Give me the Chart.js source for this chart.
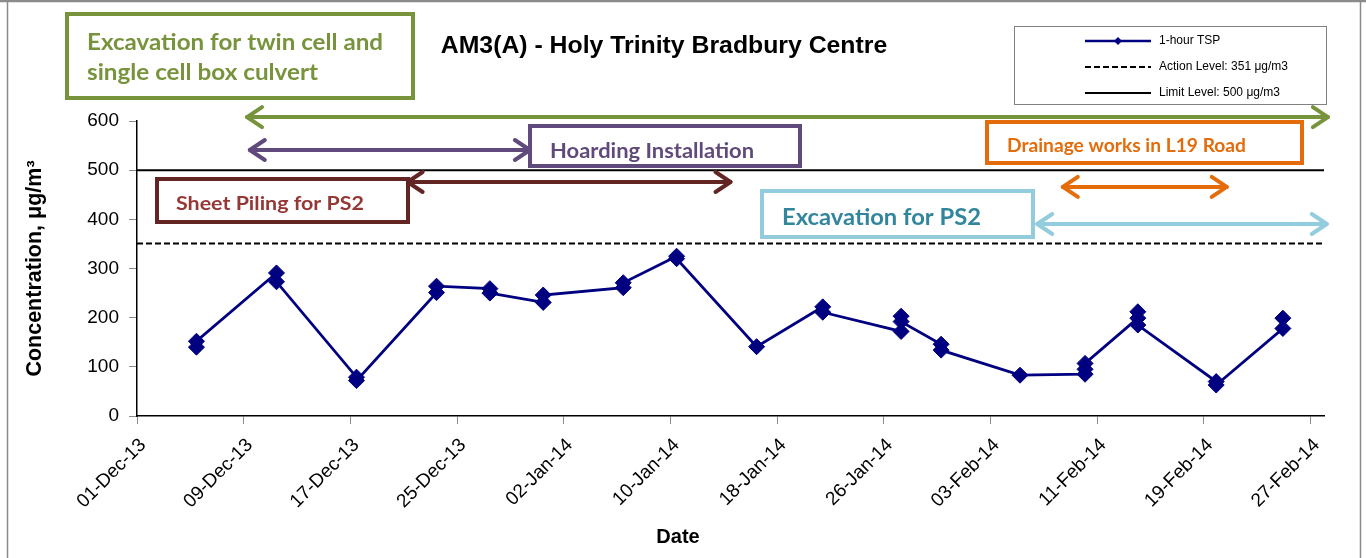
<!DOCTYPE html>
<html><head><meta charset="utf-8">
<script src="https://cdn.jsdelivr.net/npm/chart.js@4.4.1/dist/chart.umd.min.js"></script>
<style>html,body{margin:0;padding:0;background:#fff;}canvas{display:block;}</style>
</head><body>
<canvas id="c" width="1366" height="558"></canvas>
<script>
// ---------------- data ----------------
const chartTitle = "AM3(A) - Holy Trinity Bradbury Centre";
const xAxisTitle = "Date";
const yAxisTitle = "Concentration, μg/m³";
const axisStart = "2013-12-01";
const axisEnd = "2014-02-28";
const tickDates = ["2013-12-01","2013-12-09","2013-12-17","2013-12-25","2014-01-02","2014-01-10","2014-01-18","2014-01-26","2014-02-03","2014-02-11","2014-02-19","2014-02-27"];
const tickLabels = ["01-Dec-13","09-Dec-13","17-Dec-13","25-Dec-13","02-Jan-14","10-Jan-14","18-Jan-14","26-Jan-14","03-Feb-14","11-Feb-14","19-Feb-14","27-Feb-14"];
const yTicks = [0,100,200,300,400,500,600];
const seriesNames = ["1-hour TSP","Action Level: 351 μg/m3","Limit Level: 500 μg/m3"];
const sampleTimes = [
  "2013-12-05 11:00","2013-12-05 11:00",
  "2013-12-11 11:00","2013-12-11 11:00",
  "2013-12-17 11:00","2013-12-17 11:00",
  "2013-12-23 11:00","2013-12-23 11:00",
  "2013-12-27 11:00","2013-12-27 11:00",
  "2013-12-31 11:00","2013-12-31 11:00",
  "2014-01-06 11:00","2014-01-06 11:00",
  "2014-01-10 11:00","2014-01-10 11:00",
  "2014-01-16 11:00",
  "2014-01-21 10:00","2014-01-21 10:00",
  "2014-01-27 07:00","2014-01-27 07:00","2014-01-27 07:00",
  "2014-01-30 07:00","2014-01-30 07:00",
  "2014-02-05 05:00",
  "2014-02-10 02:00","2014-02-10 02:00","2014-02-10 02:00",
  "2014-02-14 01:00","2014-02-14 01:00","2014-02-14 01:00",
  "2014-02-19 22:00","2014-02-19 22:00",
  "2014-02-24 22:00","2014-02-24 22:00"
];
const tspValues = [
  140,152,
  291,273,
  79,72,
  251,264,
  259,250,
  231,246,
  261,271,
  325,320,
  141,
  222,211,
  172,203,192,
  146,134,
  83,
  85,95,107,
  199,212,185,
  70,63,
  178,199
];
const actionLevel = 351;
const limitLevel = 500;
const phaseNames = ["Excavation for twin cell and\nsingle cell box culvert","Hoarding Installation","Sheet Piling for PS2","Drainage works in L19 Road","Excavation for PS2"];
const phaseStarts = ["2013-12-09 06:00","2013-12-09 11:00","2013-12-21 07:00","2014-02-08 10:00","2014-02-06 12:00"];
const phaseEnds   = ["2014-02-28 07:00","2013-12-30 11:00","2014-01-14 12:00","2014-02-20 17:00","2014-02-28 05:00"];
const phaseArrowLevels = [608,541,476,466,390.5];

// ---------------- styles / layout ----------------
const phaseStyles = [
  {line:"#77933C", text:"#77933C", rect:[67,14,346,84], tx:87, ty:[43,73], tw:[296,231], size:22},
  {line:"#604A7B", text:"#604A7B", rect:[530,126,270,40], tx:550, ty:[152], tw:[204], size:20},
  {line:"#632523", text:"#953735", rect:[157,179,251,43], tx:176, ty:[204], tw:[188], size:19},
  {line:"#E46C0A", text:"#E46C0A", rect:[987,122,315,41], tx:1007, ty:[146], tw:[239], size:18.5},
  {line:"#93CDDD", text:"#31859C", rect:[762,191,271,46], tx:782, ty:[218], tw:[199], size:22}
];
const FONT = '"Liberation Sans", Arial, sans-serif';
const ANNOT_FONT = 'Lato, "Open Sans", sans-serif';

function dayOf(s){
  const parts = s.split(' ');
  const [Y,M,D] = parts[0].split('-').map(Number);
  let h=0,m=0;
  if(parts[1]){ [h,m] = parts[1].split(':').map(Number); }
  return (Date.UTC(Y,M-1,D,h,m) - Date.UTC(2013,11,1))/86400000;
}
const xMin = dayOf(axisStart), xMax = dayOf(axisEnd);

function fitText(ctx, text, x, y, width){
  const m = ctx.measureText(text).width;
  ctx.save(); ctx.translate(x,y); ctx.scale(width/m,1); ctx.fillText(text,0,0); ctx.restore();
}
function arrowHead(ctx, x, y, dir){
  const L=15, H=10;
  ctx.beginPath();
  ctx.moveTo(x - dir*L, y - H);
  ctx.lineTo(x, y);
  ctx.lineTo(x - dir*L, y + H);
  ctx.stroke();
}

const framePlugin = {
  id:'frame',
  beforeDraw(chart){
    const ctx = chart.ctx;
    ctx.save();
    ctx.fillStyle='#fff'; ctx.fillRect(0,0,chart.width,chart.height);
    ctx.strokeStyle='#8a8a8a'; ctx.lineWidth=2.5;
    ctx.beginPath(); ctx.moveTo(0,1); ctx.lineTo(chart.width,1); ctx.stroke();
    ctx.lineWidth=1.5;
    ctx.beginPath(); ctx.moveTo(7.5,1); ctx.lineTo(7.5,chart.height); ctx.stroke();
    ctx.beginPath(); ctx.moveTo(1360.5,1); ctx.lineTo(1360.5,chart.height); ctx.stroke();
    ctx.restore();
  }
};

const decorPlugin = {
  id:'decor',
  afterDraw(chart){
    const ctx = chart.ctx;
    const xs = chart.scales.x, ys = chart.scales.y;
    ctx.save();
    // title
    ctx.fillStyle='#000'; ctx.textAlign='center'; ctx.textBaseline='middle';
    ctx.font = 'bold 24.8px ' + FONT;
    ctx.fillText(chartTitle, 664, 46);
    // x axis title
    ctx.font = 'bold 20px ' + FONT;
    ctx.fillText(xAxisTitle, 678, 537);
    // legend
    ctx.strokeStyle='#808080'; ctx.lineWidth=1;
    ctx.fillStyle='#fff';
    ctx.fillRect(1014.5,26.5,312,78); ctx.strokeRect(1014.5,26.5,312,78);
    const rows=[41,67,93];
    chart.data.datasets.forEach((ds,i)=>{
      const y=rows[i];
      ctx.save();
      ctx.strokeStyle=ds.borderColor; ctx.lineWidth=Math.min(ds.borderWidth,2.5);
      ctx.setLineDash(ds.borderDash||[]);
      ctx.beginPath(); ctx.moveTo(1085,y); ctx.lineTo(1151,y); ctx.stroke();
      ctx.setLineDash([]);
      if(ds.pointRadius>0){
        ctx.fillStyle=ds.backgroundColor;
        ctx.beginPath(); ctx.moveTo(1118,y-4); ctx.lineTo(1122,y); ctx.lineTo(1118,y+4); ctx.lineTo(1114,y); ctx.closePath(); ctx.fill();
      }
      ctx.restore();
      ctx.fillStyle='#000'; ctx.textAlign='left'; ctx.textBaseline='middle';
      ctx.font='12px ' + FONT;
      ctx.fillText(ds.label, 1159, y);
    });
    // phases
    phaseNames.forEach((name,i)=>{
      const st = phaseStyles[i];
      const x1 = xs.getPixelForValue(dayOf(phaseStarts[i]));
      const x2 = xs.getPixelForValue(dayOf(phaseEnds[i]));
      const y = ys.getPixelForValue(phaseArrowLevels[i]);
      ctx.strokeStyle = st.line; ctx.lineWidth = 4; ctx.lineCap='round'; ctx.lineJoin='round';
      ctx.beginPath(); ctx.moveTo(x1,y); ctx.lineTo(x2,y); ctx.stroke();
      arrowHead(ctx,x1,y,-1); arrowHead(ctx,x2,y,1);
      const [rx,ry,rw,rh] = st.rect;
      ctx.fillStyle='#fff'; ctx.fillRect(rx,ry,rw,rh);
      ctx.lineJoin='miter'; ctx.lineWidth=4; ctx.strokeRect(rx,ry,rw,rh);
      ctx.fillStyle=st.text; ctx.textAlign='left'; ctx.textBaseline='middle';
      ctx.font = 'bold ' + st.size + 'px ' + ANNOT_FONT;
      name.split('\n').forEach((ln,j)=> fitText(ctx, ln, st.tx, st.ty[j], st.tw[j]));
    });
    ctx.restore();
  }
};

new Chart(document.getElementById('c'), {
  type:'line',
  data:{
    datasets:[
      { label:seriesNames[0], data:sampleTimes.map((t,i)=>({x:dayOf(t), y:tspValues[i]})),
        borderColor:'#000080', backgroundColor:'#000080', borderWidth:2.8,
        pointStyle:'rectRot', pointRadius:8, pointHoverRadius:8, pointBorderWidth:1, tension:0 },
      { label:seriesNames[1], data:[{x:xMin,y:actionLevel},{x:xMax,y:actionLevel}],
        borderColor:'#000', backgroundColor:'#000', borderWidth:2, borderDash:[6,3], pointRadius:0 },
      { label:seriesNames[2], data:[{x:xMin,y:limitLevel},{x:xMax,y:limitLevel}],
        borderColor:'#000', backgroundColor:'#000', borderWidth:2, pointRadius:0 }
    ]
  },
  options:{
    responsive:false, animation:false, devicePixelRatio:1,
    layout:{ padding:{left:12, top:121, right:42, bottom:0} },
    plugins:{ legend:{display:false}, title:{display:false}, tooltip:{enabled:false} },
    scales:{
      x:{ type:'linear', min:xMin, max:xMax,
        afterBuildTicks:s=>{ s.ticks = tickDates.map(d=>({value:dayOf(d)})); },
        afterFit:s=>{ s.height = 142; },
        ticks:{ autoSkip:false, minRotation:45, maxRotation:45, padding:10, labelOffset:6, color:'#000',
          font:{family:FONT, size:19}, callback:(v,i)=>tickLabels[i] },
        grid:{ drawOnChartArea:false, drawTicks:true, tickLength:8, color:'#8c8c8c' },
        border:{ display:true, color:'#000', width:1.5 }
      },
      y:{ min:0, max:600,
        afterBuildTicks:s=>{ s.ticks = yTicks.map(v=>({value:v})); },
        afterFit:s=>{ s.width = 125; },
        ticks:{ padding:10, color:'#000', font:{family:FONT, size:19} },
        grid:{ drawOnChartArea:false, drawTicks:true, tickLength:8, color:'#8c8c8c' },
        border:{ display:true, color:'#000', width:1.5 },
        title:{ display:true, text:yAxisTitle, color:'#000', font:{family:FONT, size:21.5, weight:'bold'}, padding:{top:10,bottom:0} }
      }
    }
  },
  plugins:[framePlugin, decorPlugin]
});
</script>
</body></html>
